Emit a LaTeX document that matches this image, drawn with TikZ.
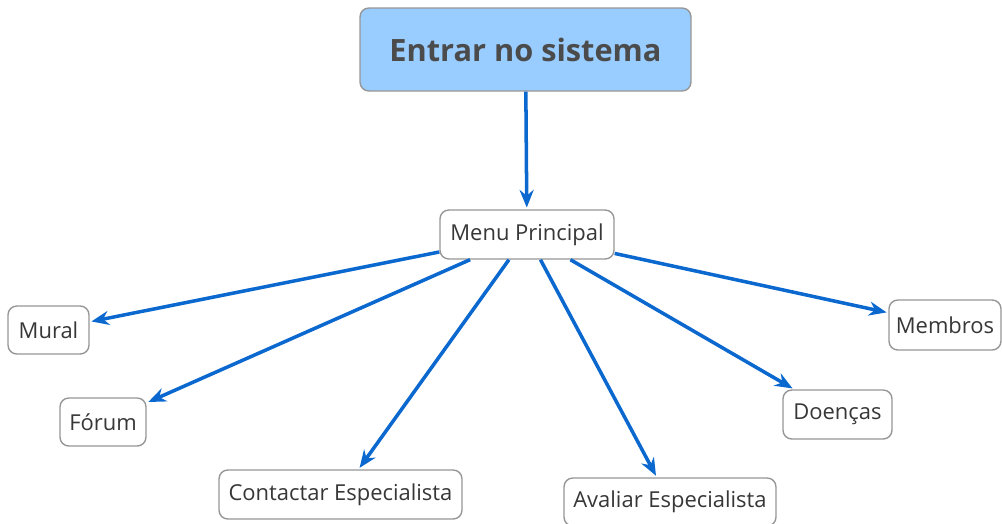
\documentclass[tikz,border=0pt]{standalone}
\usepackage{fontspec}
\setmainfont{Open Sans}
\usetikzlibrary{arrows.meta}
\definecolor{seta}{RGB}{10,104,206}
\definecolor{azul}{RGB}{153,204,255}
\definecolor{borda}{RGB}{150,150,150}
\definecolor{texto}{RGB}{55,55,55}
\begin{document}
\begin{tikzpicture}[x=0.02cm,y=-0.02cm,>={Stealth[length=10pt,width=8pt]},
  caixa/.style={draw=borda,rounded corners=5pt,fill=white,text=texto,font=\fontsize{12.5}{14}\selectfont,inner sep=0pt,line width=0.8pt},
  seta/.style={->,draw=seta,line width=2pt,shorten >=1pt}]
\useasboundingbox (0,0) rectangle (1002,524);
\node[caixa,fill=azul,text=texto!90,font=\fontsize{17.5}{20}\selectfont\bfseries,minimum width=6.62cm,minimum height=1.66cm] (entrar) at (525.5,49.5) {Entrar no sistema};
\node[caixa,minimum width=3.48cm,minimum height=0.98cm] (menu) at (527,234.5) {Menu Principal};
\node[caixa,minimum width=1.62cm,minimum height=0.96cm] (mural) at (48.5,330) {Mural};
\node[caixa,minimum width=1.72cm,minimum height=0.96cm] (forum) at (103,422) {Fórum};
\node[caixa,minimum width=4.86cm,minimum height=0.98cm] (contactar) at (340.5,494.5) {Contactar Especialista};
\node[caixa,minimum width=4.24cm,minimum height=0.96cm] (avaliar) at (670,502) {Avaliar Especialista};
\node[caixa,minimum width=2.18cm,minimum height=0.98cm] (doencas) at (837.5,414.5) {Doenças};
\node[caixa,minimum width=2.24cm,minimum height=1.0cm] (membros) at (945,325) {Membros};
\draw[seta] (entrar) -- (menu);
\foreach \alvo in {mural,forum,contactar,avaliar,doencas,membros}{\draw[seta] (menu) -- (\alvo);}
\end{tikzpicture}
\end{document}
